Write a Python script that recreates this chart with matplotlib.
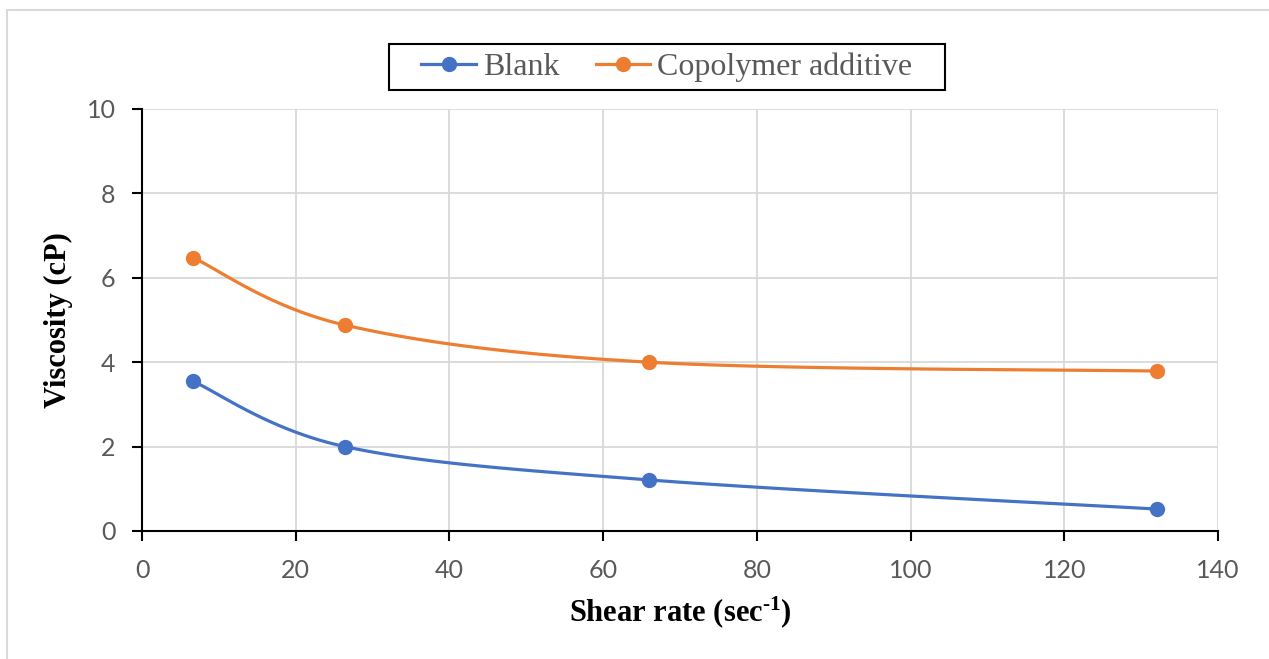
import numpy as np
import matplotlib
matplotlib.use("Agg")
import matplotlib.pyplot as plt
from matplotlib.patches import Rectangle

shear_rate = [6.6, 26.4, 66.0, 132.0]
blank = [3.55, 2.00, 1.21, 0.52]
copolymer = [6.48, 4.88, 4.00, 3.79]
series_names = ["Blank", "Copolymer additive"]

plt.rcParams['mathtext.fontset'] = 'custom'
plt.rcParams['mathtext.rm'] = 'Liberation Serif:bold'
plt.rcParams['mathtext.bf'] = 'Liberation Serif:bold'
plt.rcParams['mathtext.default'] = 'bf'

W, H = 1269, 659


def smooth(x, y, n=40):
    p = np.column_stack([x, y]).astype(float)
    pts = np.vstack([p[0], p, p[-1]])
    out = []
    for i in range(1, len(pts) - 2):
        p0, p1, p2, p3 = pts[i - 1], pts[i], pts[i + 1], pts[i + 2]
        c1 = p1 + (p2 - p0) / 6.0
        c2 = p2 - (p3 - p1) / 6.0
        t = np.linspace(0, 1, n)[:, None]
        seg = ((1 - t) ** 3) * p1 + 3 * ((1 - t) ** 2) * t * c1 + 3 * (1 - t) * t ** 2 * c2 + t ** 3 * p2
        out.append(seg if i == 1 else seg[1:])
    s = np.vstack(out)
    return s[:, 0], s[:, 1]


fig = plt.figure(figsize=(W / 100, H / 100), dpi=100)
fig.patches.append(Rectangle((7 / W, -0.1), 1.2, (H - 10) / H + 0.1,
                             transform=fig.transFigure, fill=False,
                             edgecolor='#d9d9d9', linewidth=1.5))
# legend frame
fig.patches.append(Rectangle((389 / W, 1 - 90 / H), (945 - 389) / W, (90 - 44) / H,
                             transform=fig.transFigure, fill=False,
                             edgecolor='black', linewidth=1.5))
ax = fig.add_axes([142 / W, 1 - 531 / H, (1218 - 142) / W, (531 - 109) / H])

colors = ['#4472C4', '#ED7D31']
for ys, c, name in zip([blank, copolymer], colors, series_names):
    sx, sy = smooth(shear_rate, ys)
    ax.plot(sx, sy, color=c, lw=2.3, zorder=3)
    ax.plot(shear_rate, ys, 'o', color=c, ms=10, zorder=4)
    ax.plot([], [], '-o', color=c, lw=2.3, ms=10, label=name)

ax.set_xlim(0, 140)
ax.set_ylim(0, 10)
ax.set_xticks(np.arange(0, 141, 20))
ax.set_yticks(np.arange(0, 11, 2))
ax.grid(True, color='#d9d9d9', lw=1.3)
ax.set_axisbelow(True)
for s in ['top', 'right']:
    ax.spines[s].set_visible(False)
for s in ['left', 'bottom']:
    ax.spines[s].set_linewidth(1.5)
    ax.spines[s].set_color('black')
ax.tick_params(direction='out', length=7, width=1.5, colors='black',
               labelcolor='#595959', labelsize=18)
ax.tick_params(axis='x', pad=13)
ax.tick_params(axis='y', pad=12)
for lab in ax.get_xticklabels() + ax.get_yticklabels():
    lab.set_fontfamily('Lato')

ax.set_xlabel(r"Shear rate (sec$^{\text{-1}}$)", fontfamily='Liberation Serif',
              fontweight='bold', fontsize=22, labelpad=9)
ax.set_ylabel("Viscosity (cP)", fontfamily='Liberation Serif',
              fontweight='bold', fontsize=22, labelpad=10)

leg = ax.legend(loc='center', ncol=2,
                prop={'family': 'Liberation Serif', 'size': 23}, frameon=False,
                handlelength=1.7, columnspacing=1.15, handletextpad=0.22,
                borderpad=0.0, borderaxespad=0)
for t in leg.get_texts():
    t.set_color('#595959')
leg.set_bbox_to_anchor(((389 + 945) / 2 / W, 1 - 67 / H), transform=fig.transFigure)

fig.savefig('out.png', dpi=100)
